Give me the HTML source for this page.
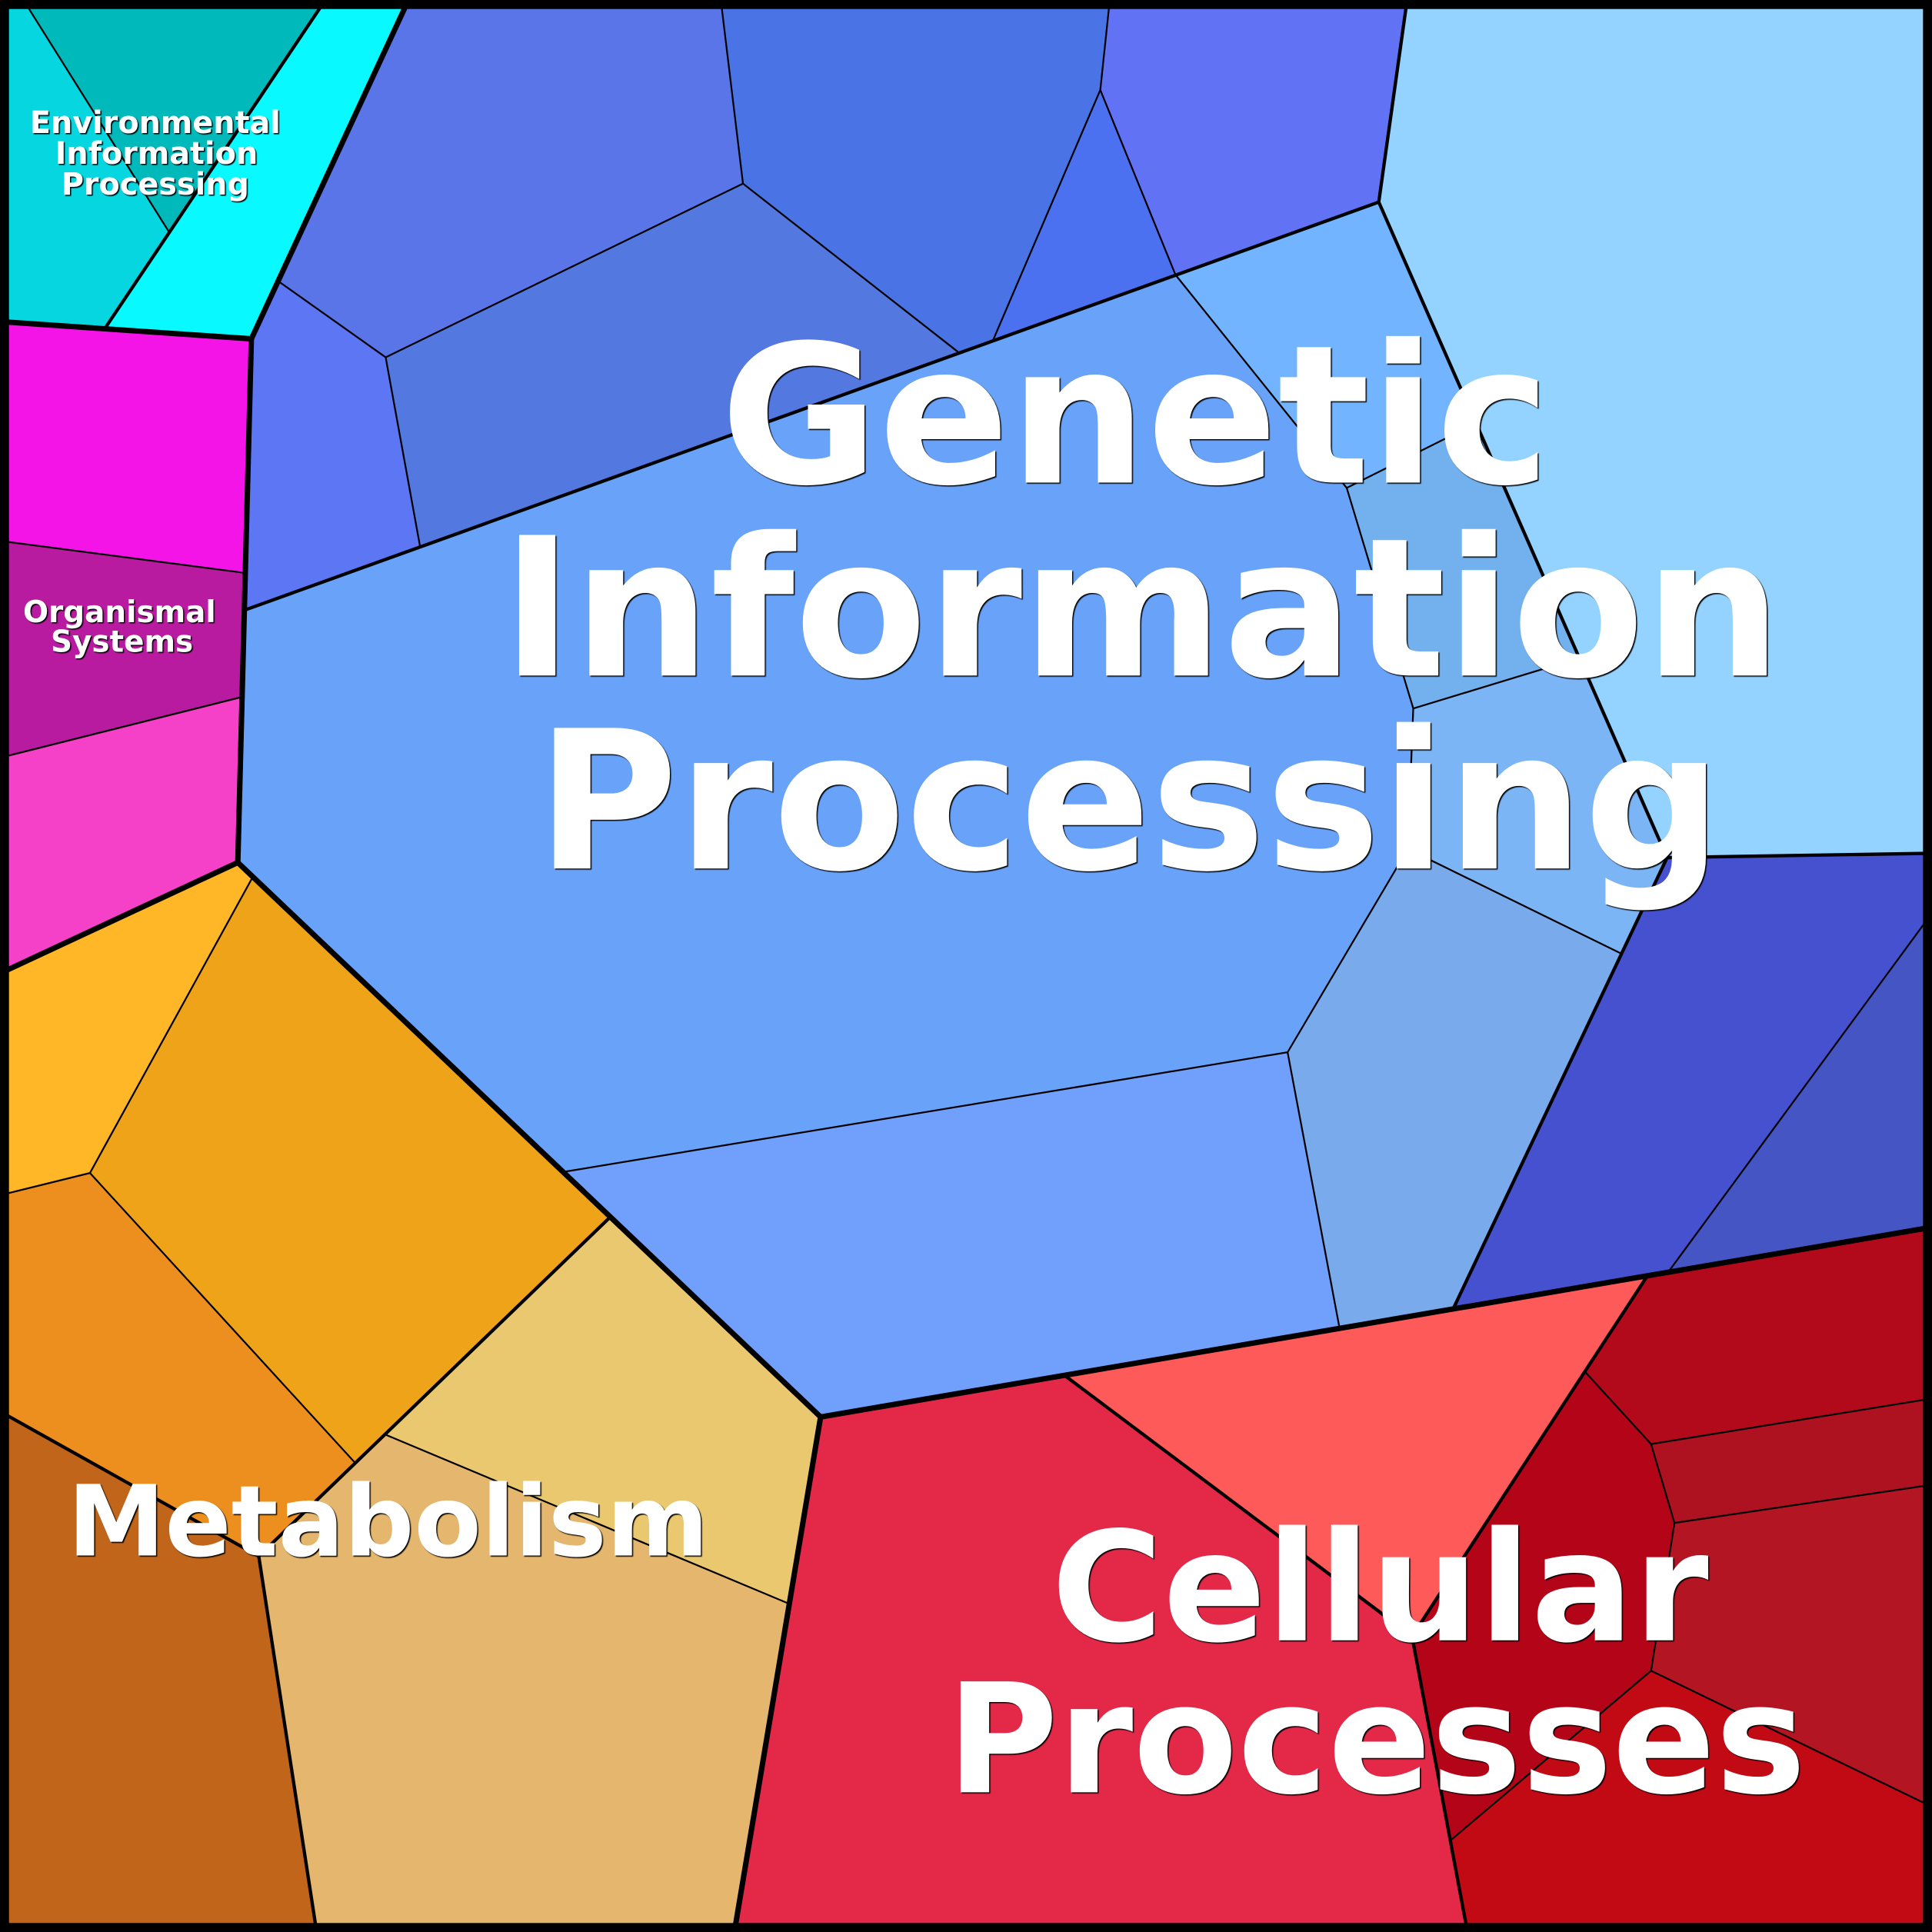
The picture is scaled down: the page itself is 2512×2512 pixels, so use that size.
<!DOCTYPE html>
<html><head><meta charset="utf-8"><style>
html,body{margin:0;padding:0;background:#fff}
svg{display:block}
text{font-family:"DejaVu Sans","Liberation Sans",sans-serif;font-weight:bold;fill:#fff;text-anchor:middle}
.l1{stroke:#000;stroke-width:4.4;fill:none;stroke-linejoin:miter}
.l2{stroke:#000;stroke-width:2.7;fill:none}
.l3{stroke:#000;stroke-width:1.4;fill:none}
</style></head><body>
<svg xmlns="http://www.w3.org/2000/svg" width="2512" height="2512" viewBox="0 0 1568 1568">
<defs><filter id="s" filterUnits="userSpaceOnUse" x="0" y="0" width="1568" height="1568" color-interpolation-filters="sRGB"><feDropShadow dx="0.9" dy="0.9" stdDeviation="0.4" flood-color="#000" flood-opacity="1"/></filter></defs>
<g>
<polygon fill="#05d6e0" points="0,0 19,0 137,188 85.5,266 0,261"/>
<polygon fill="#00b9ba" points="19,0 264,0 137,188"/>
<polygon fill="#08f9ff" points="264,0 331.5,0 204,275 85.5,266"/>
<polygon fill="#f514e8" points="0,261 204,275 199,465 0,439"/>
<polygon fill="#b81ba0" points="0,439 199,465 195,566 0,615"/>
<polygon fill="#f540c8" points="0,615 195,566 193,700 0,790"/>
<polygon fill="#ffb627" points="0,790 193,700 205,712 73,952 0,970"/>
<polygon fill="#efa318" points="205,712 495,988 288,1187 73,952"/>
<polygon fill="#ed8f1f" points="0,970 73,952 288,1187 210,1263 0,1145.5"/>
<polygon fill="#c1651b" points="0,1145.5 210,1263 257,1568 0,1568"/>
<polygon fill="#e4b66e" points="210,1263 312,1164 639,1301 596,1568 257,1568"/>
<polygon fill="#eac86f" points="312,1164 495,988 666,1150 639,1301"/>
<polygon fill="#5975e8" points="331.5,0 585,0 603,149 313,290 227,229"/>
<polygon fill="#4a74e6" points="585,0 900.7,0 893,73 806,276 778,286 603,149"/>
<polygon fill="#6272f5" points="900.7,0 1142,0 1119,164 954,223 893,73"/>
<polygon fill="#4b70f0" points="893,73 954,223 806,276"/>
<polygon fill="#5378e0" points="603,149 778,286 341,444 313,290"/>
<polygon fill="#5d76f3" points="227,229 313,290 341,444 199,495 204,275"/>
<polygon fill="#69a3f9" points="199,495 954,223 1093,396 1147,575 1142.6,689 1045,854 458,951 193,700"/>
<polygon fill="#72b4ff" points="954,223 1119,164 1199,343 1093,396"/>
<polygon fill="#73b1ee" points="1093,396 1199,343 1285,533 1147,575"/>
<polygon fill="#7cb5f6" points="1147,575 1285,533 1353,696 1316,774 1142.6,689"/>
<polygon fill="#78aaec" points="1142.6,689 1316,774 1180,1061 1087,1077 1045,854"/>
<polygon fill="#709ffc" points="458,951 1045,854 1087,1077 666,1150"/>
<polygon fill="#94d2ff" points="1119,164 1142,0 1568,0 1568,692.5 1353,696"/>
<polygon fill="#4551ce" points="1353,696 1568,692.5 1568,741 1355,1031 1180,1061"/>
<polygon fill="#4555c4" points="1568,741 1568,996 1355,1031"/>
<polygon fill="#e32947" points="666,1150 865,1117 1146,1328 1191,1568 596,1568"/>
<polygon fill="#ff5a5a" points="865,1117 1336,1037 1146,1328"/>
<polygon fill="#b40518" points="1146,1328 1287,1114 1340,1172 1359,1236 1340,1356 1178,1493"/>
<polygon fill="#b30a1b" points="1336,1037 1568,996 1568,1135 1340,1172 1287,1114"/>
<polygon fill="#ae1120" points="1340,1172 1568,1135 1568,1205 1359,1236"/>
<polygon fill="#b31522" points="1359,1236 1568,1205 1568,1466.4 1340,1356"/>
<polygon fill="#c20a14" points="1178,1493 1340,1356 1568,1466.4 1568,1568 1191,1568"/>
</g>
<g class="l3">
<polyline points="19,0 137,188"/>
<polyline points="0,439 199,465"/><polyline points="195,566 0,615"/>
<polyline points="205,712 73,952 288,1187"/><polyline points="73,952 0,970"/>
<polyline points="312,1164 639,1301"/>
<polyline points="585,0 603,149 778,286"/><polyline points="603,149 313,290 227,229"/><polyline points="313,290 341,444"/>
<polyline points="900.7,0 893,73 954,223"/><polyline points="893,73 806,276"/>
<polyline points="954,223 1093,396 1147,575 1142.6,689 1045,854 458,951"/>
<polyline points="1093,396 1199,343"/><polyline points="1147,575 1285,533"/><polyline points="1142.6,689 1316,774"/>
<polyline points="1045,854 1087,1077"/>
<polyline points="1568,741 1355,1031"/>
<polyline points="1287,1114 1340,1172 1359,1236 1340,1356 1178,1493"/>
<polyline points="1340,1172 1568,1135"/><polyline points="1359,1236 1568,1205"/><polyline points="1340,1356 1568,1466.4"/>
</g>
<g class="l2">
<polyline points="264,0 85.5,266"/>
<polyline points="199,495 1119,164"/><polyline points="1142,0 1119,164 1353,696 1568,692.5"/><polyline points="1353,696 1180,1061"/>
<polyline points="495,988 210,1263"/><polyline points="0,1145.5 210,1263 257,1568"/>
<polyline points="865,1117 1146,1328 1191,1568"/><polyline points="1336,1037 1146,1328"/>
</g>
<g class="l1">
<polyline points="331.5,0 204,275 0,261"/><polyline points="204,275 193,700 0,790"/>
<polyline points="193,700 666,1150 596,1568"/><polyline points="666,1150 1568,996"/>
</g>
<rect x="0" y="0" width="1568" height="1568" fill="none" stroke="#000" stroke-width="14.6"/>
<g filter="url(#s)">
<text font-size="156.6" x="921.5" y="391.7">Genetic</text>
<text font-size="156.6" x="926.5" y="548.3">Information</text>
<text font-size="156.6" x="916.5" y="704.9">Processing</text>
<text font-size="123.5" x="1120" y="1331.3">Cellular</text>
<text font-size="123.5" x="1117" y="1454.6">Processes</text>
<text font-size="79.4" x="315" y="1262.6">Metabolism</text>
<text font-size="24.8" x="126" y="108">Environmental</text>
<text font-size="24.8" x="127" y="133">Information</text>
<text font-size="24.8" x="126" y="158">Processing</text>
<text font-size="24.3" x="97" y="505">Organismal</text>
<text font-size="24.3" x="99" y="529">Systems</text>
</g>
</svg>
</body></html>
